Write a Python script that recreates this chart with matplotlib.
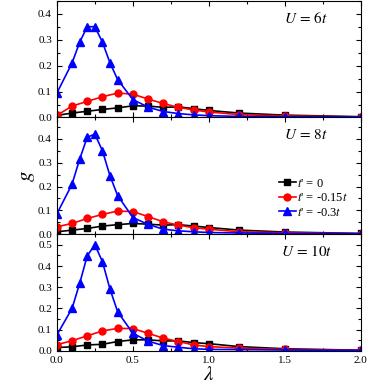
import numpy as np
import matplotlib
matplotlib.use('Agg')
import matplotlib.pyplot as plt
from matplotlib.ticker import MultipleLocator

plt.rcParams['font.family'] = 'Liberation Serif'
plt.rcParams['mathtext.fontset'] = 'stix'

# lambda grid
lam_full = [0, 0.1, 0.15, 0.2, 0.25, 0.3, 0.35, 0.4, 0.5, 0.6, 0.7, 0.8, 0.9, 1.0, 1.2, 1.5, 2.0]
lam = [0, 0.1, 0.2, 0.3, 0.4, 0.5, 0.6, 0.7, 0.8, 0.9, 1.0, 1.2, 1.5, 2.0]

# U = 6t
g6_t0 = [0.008, 0.017, 0.024, 0.031, 0.037, 0.045, 0.044, 0.039, 0.041, 0.034, 0.027, 0.017, 0.009, 0.003]
g6_t15 = [0.008, 0.044, 0.062, 0.08, 0.094, 0.09, 0.071, 0.054, 0.039, 0.029, 0.021, 0.011, 0.006, 0.002]
g6_t3 = [0.094, 0.21, 0.29, 0.35, 0.35, 0.29, 0.21, 0.146, 0.069, 0.04, 0.023, 0.015, 0.01, 0.007, 0.004, 0.003, 0.002]

# U = 8t
g8_t0 = [0.01, 0.017, 0.024, 0.034, 0.04, 0.045, 0.042, 0.038, 0.04, 0.034, 0.028, 0.017, 0.009, 0.003]
g8_t15 = [0.031, 0.045, 0.066, 0.083, 0.097, 0.095, 0.074, 0.052, 0.038, 0.027, 0.021, 0.01, 0.006, 0.002]
g8_t3 = [0.085, 0.21, 0.315, 0.407, 0.42, 0.35, 0.244, 0.162, 0.07, 0.041, 0.021, 0.014, 0.01, 0.007, 0.005, 0.003, 0.002]

# U = 10t
g10_t0 = [0.016, 0.019, 0.028, 0.031, 0.044, 0.052, 0.052, 0.047, 0.047, 0.039, 0.034, 0.02, 0.01, 0.003]
g10_t15 = [0.029, 0.048, 0.071, 0.094, 0.106, 0.105, 0.083, 0.06, 0.044, 0.028, 0.02, 0.013, 0.007, 0.002]
g10_t3 = [0.075, 0.2, 0.318, 0.448, 0.5, 0.42, 0.29, 0.184, 0.083, 0.046, 0.025, 0.017, 0.01, 0.007, 0.006, 0.004, 0.002]

panels = [
    ('$U\\,=\\,6t$', g6_t0, g6_t15, g6_t3, 0.45),
    ('$U\\,=\\,8t$', g8_t0, g8_t15, g8_t3, 0.49),
    ('$U\\,=\\,10t$', g10_t0, g10_t15, g10_t3, 0.55),
]

fig, axes = plt.subplots(3, 1, figsize=(3.74, 3.89), dpi=100, sharex=True)
fig.subplots_adjust(left=0.152, right=0.965, top=0.998, bottom=0.098, hspace=0)

for i, (ax, (lbl, a, b, c, ytop)) in enumerate(zip(axes, panels)):
    ax.plot(lam, a, '-s', color='black', lw=1.2, ms=4.3, label="$t$' = 0")
    ax.plot(lam, b, '-o', color='red', lw=1.2, ms=5, label="$t$' = -0.15$t$")
    ax.plot(lam_full, c, '-^', color='blue', lw=1.2, ms=5.5, label="$t$' = -0.3$t$")
    ax.set_xlim(0, 2.0)
    ax.set_ylim(0, ytop)
    ax.xaxis.set_major_locator(MultipleLocator(0.5))
    ax.xaxis.set_minor_locator(MultipleLocator(0.25))
    ax.yaxis.set_major_locator(MultipleLocator(0.1))
    ax.yaxis.set_minor_locator(MultipleLocator(0.05))
    ax.tick_params(which='both', direction='in', top=True, right=True, labelsize=8)
    ax.tick_params(which='major', length=3.5, width=0.8)
    ax.tick_params(which='minor', length=2, width=0.8)
    ax.text(0.82, 0.85, lbl, transform=ax.transAxes, ha='center', va='center', fontsize=11)
    if i == 1:
        ax.legend(loc='center right', bbox_to_anchor=(0.985, 0.31), frameon=False, fontsize=9,
                  handlelength=1.3, handletextpad=0.1, labelspacing=0.2, borderpad=0.2)

axes[1].set_ylabel('$g$', fontsize=15, labelpad=1)
axes[2].set_xlabel('$\\lambda$', fontsize=15, labelpad=1)

fig.savefig('out.png', dpi=100)
